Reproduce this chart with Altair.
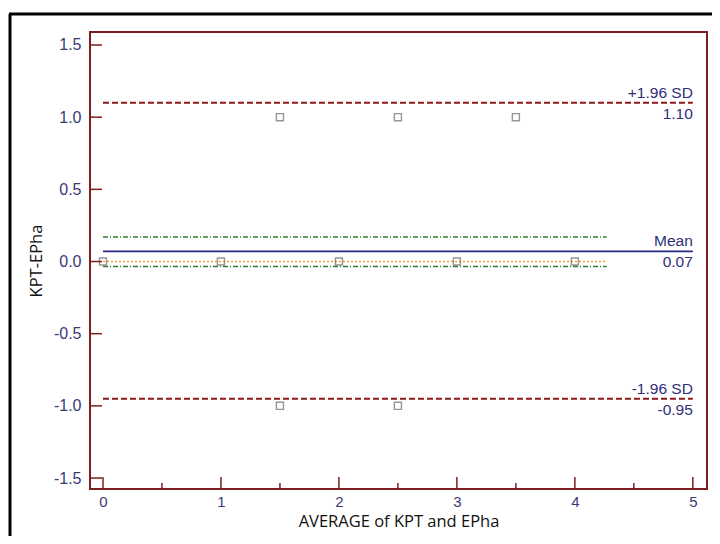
import altair as alt
import pandas as pd

# Data points (average, difference)
avg_vals = [0, 1, 2, 3, 4, 1.5, 2.5, 3.5, 1.5, 2.5]
diff_vals = [0, 0, 0, 0, 0, 1, 1, 1, -1, -1]

# Reference lines
mean_diff = 0.07
upper_loa = 1.10
lower_loa = -0.95
ci_upper = 0.17
ci_lower = -0.035
reg_y = 0.0
line_x_start = 0
line_x_end = 5
ci_x_end = 4.27

# Axis ticks
y_ticks = [-1.5, -1.0, -0.5, 0.0, 0.5, 1.0, 1.5]
x_major = [0, 1, 2, 3, 4, 5]
x_minor = [0.5, 1.5, 2.5, 3.5, 4.5]

W, H = 617, 457
xs = alt.Scale(domain=[-0.11, 5.12], nice=False, zero=False)
ys = alt.Scale(domain=[-1.576, 1.59], nice=False, zero=False)

pts = pd.DataFrame({"avg": avg_vals, "diff": diff_vals})

lab_font = "Liberation Sans"
lab_color = "#3a3a78"

points = alt.Chart(pts).mark_point(
    shape="square", filled=False, color="#6a6a6a", size=50, strokeWidth=1.4
).encode(
    x=alt.X("avg:Q", scale=xs, title="AVERAGE of KPT and EPha",
            axis=alt.Axis(values=x_major, format="d", ticks=False, domain=False, grid=False,
                          labelPadding=5, labelFontSize=15, labelFont=lab_font,
                          labelColor=lab_color, titleFont="Open Sans", titleFontSize=16.5,
                          titleColor="#111111", titleFontWeight="normal", titlePadding=4)),
    y=alt.Y("diff:Q", scale=ys, title="KPT-EPha",
            axis=alt.Axis(values=y_ticks, format=".1f", ticks=False, domain=False, grid=False,
                          labelExpr="replace(datum.label, '\u2212', '-')",
                          labelPadding=9, labelFontSize=16, labelFont=lab_font,
                          labelColor=lab_color, titleFont="Open Sans", titleFontSize=16.5,
                          titleColor="#111111", titleFontWeight="normal", titlePadding=9)),
)


def hline(yv, x0, x1, color, dash, width):
    df = pd.DataFrame({"y": [yv], "x0": [x0], "x1": [x1]})
    kw = dict(color=color, strokeWidth=width)
    if dash:
        kw["strokeDash"] = dash
    return alt.Chart(df).mark_rule(**kw).encode(
        x=alt.X("x0:Q", scale=xs), x2="x1:Q", y=alt.Y("y:Q", scale=ys)
    )


lines = [
    hline(ci_upper, line_x_start, ci_x_end, "#2f7d32", [5, 2, 1, 2], 1.6),
    hline(ci_lower, line_x_start, ci_x_end, "#2f7d32", [5, 2, 1, 2], 1.6),
    hline(reg_y, line_x_start, ci_x_end, "#f0a030", [2, 2], 1.6),
    hline(mean_diff, line_x_start, line_x_end, "#2a2a8c", None, 1.6),
    hline(upper_loa, line_x_start, line_x_end, "#8b1a1a", [6, 3], 2),
    hline(lower_loa, line_x_start, line_x_end, "#8b1a1a", [6, 3], 2),
]

labels_df = pd.DataFrame({
    "x": [5, 5, 5, 5, 5, 5],
    "y": [upper_loa, upper_loa, mean_diff, mean_diff, lower_loa, lower_loa],
    "text": ["+1.96 SD", "1.10", "Mean", "0.07", "-1.96 SD", "-0.95"],
    "pos": ["above", "below", "above", "below", "above", "below"],
})

above = alt.Chart(labels_df[labels_df.pos == "above"]).mark_text(
    align="right", baseline="bottom", dy=-2, fontSize=15.5, font=lab_font, color="#2f2f7a"
).encode(x=alt.X("x:Q", scale=xs), y=alt.Y("y:Q", scale=ys), text="text:N")
below = alt.Chart(labels_df[labels_df.pos == "below"]).mark_text(
    align="right", baseline="top", dy=4, fontSize=15.5, font=lab_font, color="#2f2f7a"
).encode(x=alt.X("x:Q", scale=xs), y=alt.Y("y:Q", scale=ys), text="text:N")

border = "#7b1e1e"
ytick_rules = alt.Chart(pd.DataFrame({"t": y_ticks})).mark_rule(color=border, strokeWidth=1.5).encode(
    y=alt.Y("t:Q", scale=ys), x=alt.value(0), x2=alt.value(12)
)
xmaj_rules = alt.Chart(pd.DataFrame({"t": x_major})).mark_rule(color=border, strokeWidth=1.5).encode(
    x=alt.X("t:Q", scale=xs), y=alt.value(H), y2=alt.value(H - 12)
)
xmin_rules = alt.Chart(pd.DataFrame({"t": x_minor})).mark_rule(color=border, strokeWidth=1.5).encode(
    x=alt.X("t:Q", scale=xs), y=alt.value(H), y2=alt.value(H - 6)
)

frame_left = alt.Chart(pd.DataFrame({"a": [0]})).mark_rule(color="#000000", strokeWidth=3).encode(
    x=alt.value(-80), y=alt.value(-18), y2=alt.value(H + 60)
)
frame_top = alt.Chart(pd.DataFrame({"a": [0]})).mark_rule(color="#000000", strokeWidth=3).encode(
    x=alt.value(-81), x2=alt.value(W + 30), y=alt.value(-18)
)

chart = alt.layer(
    *lines, points, above, below, ytick_rules, xmaj_rules, xmin_rules, frame_left, frame_top
).properties(
    width=W, height=H,
    autosize=alt.AutoSizeParams(type="none"),
    padding={"left": 82, "top": 24, "right": 5, "bottom": 47},
).configure(
    background="white",
    view=alt.ViewConfig(stroke=border, strokeWidth=2),
)

chart.save("out.html", embed_options={"renderer": "svg", "actions": False})
